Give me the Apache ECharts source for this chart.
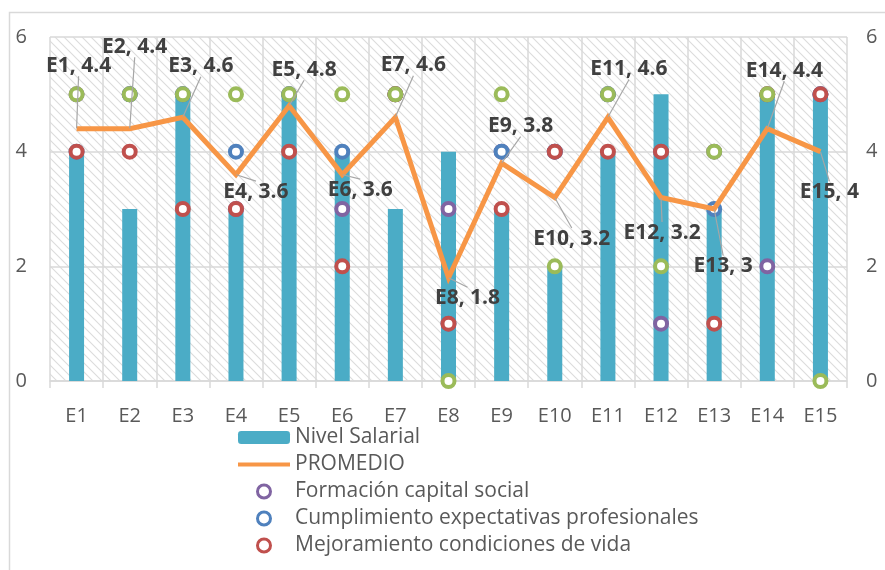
<!DOCTYPE html>
<html>
<head>
<meta charset="utf-8">
<script src="https://cdn.jsdelivr.net/npm/echarts@6/dist/echarts.min.js"></script>
<style>
html,body{margin:0;padding:0;background:#fff;}
#chart{width:885px;height:570px;}
</style>
</head>
<body>
<div id="chart"></div>
<script>
const categories = ['E1','E2','E3','E4','E5','E6','E7','E8','E9','E10','E11','E12','E13','E14','E15'];
const nivelSalarial = [4,3,5,3,5,4,3,4,3,2,4,5,3,5,5];
const promedio = [4.4,4.4,4.6,3.6,4.8,3.6,4.6,1.8,3.8,3.2,4.6,3.2,3,4.4,4];
const formacionCapital = [5,5,5,3,5,3,5,3,4,4,5,1,4,2,5];
const cumplimientoExpect = [4,5,5,4,5,4,5,1,4,4,5,4,3,5,5];
const mejoramientoVida = [4,4,3,3,4,2,5,1,3,4,4,4,1,5,5];
const quintaSerie = [5,5,5,5,5,5,5,0,5,2,5,2,4,5,0];
const yTicks = [0,2,4,6];

// label offsets (styling only)
const labelOffsets = [[2,-47],[5,-66],[18,-35],[20,33],[15,-20],[18,31],[18,-36],[19,36],[19,-21],[17,57],[21,-32],[1,51],[9,73],[17,-42],[9,56]];

const P = 9;
const pat = document.createElement('canvas');
pat.width = P; pat.height = P;
const pc = pat.getContext('2d');
pc.fillStyle = '#ffffff'; pc.fillRect(0,0,P,P);
pc.strokeStyle = '#dcdcdc'; pc.lineWidth = 1.1;
pc.beginPath();
pc.moveTo(-1,-1); pc.lineTo(P+1,P+1);
pc.moveTo(-1,P-1); pc.lineTo(1,P+1);
pc.moveTo(P-1,-1); pc.lineTo(P+1,1);
pc.stroke();

const FONT = 'Open Sans';
const grey = '#d9d9d9';
const chart = echarts.init(document.getElementById('chart'), null, {renderer:'canvas'});

function scatterSeries(name, data, color){
  return {
    name: name, type: 'scatter', yAxisIndex: 1, data: data,
    symbol: 'circle', symbolSize: 12,
    itemStyle: {color: '#ffffff', borderColor: color, borderWidth: 4, opacity: 1},
    emphasis: {disabled: true}
  };
}
function legendCircle(name, color){
  return {name: name, icon: 'circle', itemStyle: {color: '#ffffff', borderColor: color, borderWidth: 3}};
}

chart.setOption({
  animation: false,
  textStyle: {fontFamily: FONT},
  graphic: [{
    type: 'rect', left: 7, top: 10, z: -10,
    shape: {width: 1000, height: 1000},
    style: {fill: 'none', stroke: grey, lineWidth: 1.5}
  }],
  grid: {left: 50, right: 38, top: 37, bottom: 189, show: true, borderWidth: 0,
         backgroundColor: {image: pat, repeat: 'repeat'}},
  legend: {
    orient: 'vertical', left: 236, top: 427, padding: 0,
    itemWidth: 52, itemHeight: 13, itemGap: 6,
    textStyle: {fontFamily: FONT, fontSize: 21, color: '#595959', lineHeight: 21},
    data: [
      {name: 'Nivel Salarial'},
      {name: 'PROMEDIO', lineStyle: {width: 4, color: '#F79646'}},
      legendCircle('Formación capital social', '#8064A2'),
      legendCircle('Cumplimiento expectativas profesionales', '#4F81BD'),
      legendCircle('Mejoramiento condiciones de vida', '#C0504D')
    ]
  },
  xAxis: {
    type: 'category', data: categories, boundaryGap: true,
    axisLine: {lineStyle: {color: grey, width: 1.5}},
    axisTick: {show: true, length: 7, lineStyle: {color: grey, width: 1.5}},
    splitLine: {show: true, lineStyle: {color: grey, width: 1.5}},
    axisLabel: {color: '#595959', fontSize: 20, fontFamily: FONT, margin: 25}
  },
  yAxis: [{
    type: 'value', min: 0, max: 6, interval: 2,
    axisLine: {show: false}, axisTick: {show: false},
    splitLine: {lineStyle: {color: grey, width: 1.5}},
    axisLabel: {color: '#595959', fontSize: 20, fontFamily: FONT, margin: 23,
                formatter: v => yTicks.includes(v) ? String(v) : ''}
  },{
    type: 'value', min: 0, max: 6, interval: 2, position: 'right',
    axisLine: {show: false}, axisTick: {show: false}, splitLine: {show: false},
    axisLabel: {color: '#595959', fontSize: 20, fontFamily: FONT, margin: 19,
                formatter: v => yTicks.includes(v) ? String(v) : ''}
  }],
  series: [
    {name: 'Nivel Salarial', type: 'bar', data: nivelSalarial, barWidth: 15,
     itemStyle: {color: '#4BACC6'}, emphasis: {disabled: true}},
    {name: 'PROMEDIO', type: 'line', yAxisIndex: 1, data: promedio,
     symbol: 'circle', symbolSize: 1, showSymbol: true,
     lineStyle: {color: '#F79646', width: 5, join: 'miter'},
     itemStyle: {color: 'rgba(247,150,70,0)'},
     emphasis: {disabled: true},
     label: {show: true, position: 'top', distance: 5,
             formatter: p => categories[p.dataIndex] + ', ' + p.value,
             fontFamily: FONT, fontWeight: 'bold', fontSize: 21, color: '#404040', opacity: 1},
     labelLine: {show: true, lineStyle: {color: '#a6a6a6', width: 1.2}},
     labelLayout: p => ({dx: labelOffsets[p.dataIndex][0], dy: labelOffsets[p.dataIndex][1]})
    },
    scatterSeries('Formación capital social', formacionCapital, '#8064A2'),
    scatterSeries('Cumplimiento expectativas profesionales', cumplimientoExpect, '#4F81BD'),
    scatterSeries('Mejoramiento condiciones de vida', mejoramientoVida, '#C0504D'),
    scatterSeries('Serie 5', quintaSerie, '#9BBB59')
  ]
});
</script>
</body>
</html>
